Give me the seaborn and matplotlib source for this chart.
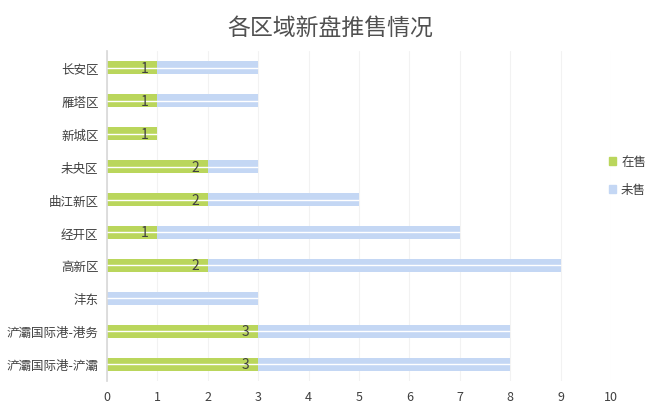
import matplotlib
matplotlib.use('Agg')
import matplotlib.pyplot as plt
import seaborn as sns
import pandas as pd
from matplotlib.patches import Patch

districts = ['长安区', '雁塔区', '新城区', '未央区', '曲江新区', '经开区', '高新区',
             '沣东', '浐灞国际港-港务', '浐灞国际港-浐灞']
on_sale = [1, 1, 1, 2, 2, 1, 2, 0, 3, 3]
not_sale = [2, 2, 0, 1, 3, 6, 7, 3, 5, 5]
x_ticks = [0, 1, 2, 3, 4, 5, 6, 7, 8, 9, 10]

GREEN = '#bad65c'
BLUE = '#c4d7f4'

sns.set_theme(style='white')
plt.rcParams['font.family'] = ['Noto Sans CJK SC', 'DejaVu Sans']

df = pd.DataFrame({'district': districts, 'on': on_sale, 'off': not_sale})
df['total'] = df['on'] + df['off']

fig = plt.figure(figsize=(6.6, 4.06), dpi=100)
ax = fig.add_axes([0.162, 0.060, 0.764, 0.811])

sns.barplot(data=df, x='total', y='district', color=BLUE, width=0.4,
            saturation=1, ax=ax, orient='h', linewidth=0, edgecolor='none')
sns.barplot(data=df, x='on', y='district', color=GREEN, width=0.4,
            saturation=1, ax=ax, orient='h', linewidth=0, edgecolor='none')

# thin white line through each bar
ax.hlines(range(len(df)), 0, df['total'], color='white', lw=1.0, zorder=3)

for i, v in enumerate(df['on']):
    if v > 0:
        ax.annotate(str(v), (v, i), xytext=(-9, 0), textcoords='offset points',
                    ha='center', va='center', fontsize=10, color='#404040', zorder=4)

ax.set_xlim(0, 10)
ax.set_ylim(len(df) - 0.5, -0.5)
ax.set_xticks(x_ticks)
ax.set_xlabel('')
ax.set_ylabel('')
ax.grid(axis='x', color='#f2f2f2', lw=0.8)
ax.set_axisbelow(True)
for s in ['top', 'right', 'bottom']:
    ax.spines[s].set_visible(False)
ax.spines['left'].set_color('#d9d9d9')
ax.tick_params(axis='both', length=0, labelsize=9, colors='#404040')
ax.tick_params(axis='x', pad=7)
ax.tick_params(axis='y', pad=6)

fig.text(0.5, 0.931, '各区域新盘推售情况', ha='center', va='center',
         fontsize=16.5, color='#505050')

handles = [Patch(color=GREEN, label='在售'), Patch(color=BLUE, label='未售')]
fig.legend(handles=handles, loc='center left', bbox_to_anchor=(0.905, 0.565),
           frameon=False, fontsize=9, handlelength=0.6, handleheight=0.6,
           handletextpad=0.4, labelspacing=1.2, labelcolor='#404040')

fig.savefig('out.png', dpi=100)
